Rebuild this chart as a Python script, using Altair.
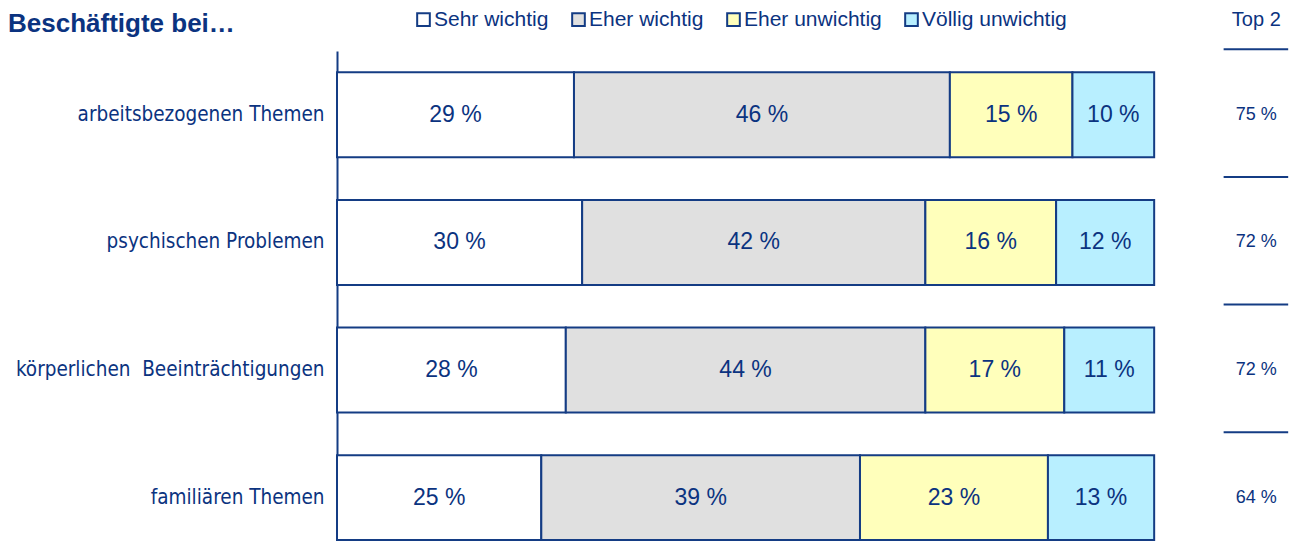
import altair as alt
import pandas as pd

# ---- data ----
categories = [
    "arbeitsbezogenen Themen",
    "psychischen Problemen",
    "körperlichen\u00a0 Beeinträchtigungen",
    "familiären Themen",
]
answers = ["Sehr wichtig", "Eher wichtig", "Eher unwichtig", "Völlig unwichtig"]
sehr_wichtig = [29, 30, 28, 25]
eher_wichtig = [46, 42, 44, 39]
eher_unwichtig = [15, 16, 17, 23]
voellig_unwichtig = [10, 12, 11, 13]
top2 = [75, 72, 72, 64]
title_text = "Beschäftigte bei…"
top2_header = "Top 2"

# ---- styles ----
TXT = "#0b3380"
STROKE = "#143c84"
FILLS = ["#ffffff", "#e0e0e0", "#ffffbb", "#b8efff"]
ARIAL = "Liberation Sans, Arial, sans-serif"

series = [sehr_wichtig, eher_wichtig, eher_unwichtig, voellig_unwichtig]
rows = []
for k, (ans, vals) in enumerate(zip(answers, series)):
    for c, v in zip(categories, vals):
        rows.append({"cat": c, "answer": ans, "ord": k, "value": v, "label": f"{v} %"})
df = pd.DataFrame(rows)
df_top = pd.DataFrame({"cat": categories, "t2": [f"{v} %" for v in top2]})
df_head = pd.DataFrame({"t": [top2_header]})
df_title = pd.DataFrame({"t": [title_text]})

xscale = alt.Scale(domain=[0, 116.5], nice=False, zero=True)
yscale = alt.Scale(paddingInner=0.334, paddingOuter=0.087, align=0.96)

y_enc = alt.Y(
    "cat:N",
    sort=categories,
    scale=yscale,
    axis=alt.Axis(
        title=None,
        ticks=False,
        grid=False,
        labelFont="DejaVu Sans Condensed, DejaVu Sans",
        labelFontSize=20.5,
        labelColor=TXT,
        labelPadding=13,
        labelLimit=0,
        domainColor=STROKE,
        domainWidth=2,
    ),
)

base = alt.Chart(df).transform_stack(
    stack="value", groupby=["cat"], as_=["x0", "x1"], sort=[alt.SortField("ord", "ascending")]
).transform_calculate(mid="(datum.x0 + datum.x1) / 2")

bars = base.mark_bar(stroke=STROKE, strokeWidth=2).encode(
    y=y_enc,
    x=alt.X("x0:Q", scale=xscale, axis=None),
    x2="x1:Q",
    fill=alt.Fill(
        "answer:N",
        scale=alt.Scale(domain=answers, range=FILLS),
        legend=alt.Legend(
            title=None,
            orient="none",
            legendX=76,
            legendY=-42,
            direction="horizontal",
            columns=4,
            columnPadding=19,
            symbolType="square",
            symbolSize=160,
            symbolStrokeColor=STROKE,
            symbolStrokeWidth=2,
            labelFont=ARIAL,
            labelFontSize=21,
            labelColor=TXT,
            labelOffset=0,
            labelLimit=0,
        ),
    ),
    order=alt.Order("ord:Q"),
)

bar_text = base.mark_text(font=ARIAL, fontSize=23, color=TXT, baseline="middle").encode(
    y=alt.Y("cat:N", sort=categories),
    x=alt.X("mid:Q"),
    text="label:N",
)

top_text = alt.Chart(df_top).mark_text(font=ARIAL, fontSize=18, color=TXT, baseline="middle").encode(
    y=alt.Y("cat:N", sort=categories),
    x=alt.datum(112.5),
    text="t2:N",
)

seps = alt.Chart(df_top).mark_rule(color=STROKE, strokeWidth=2, yOffset=-23).encode(
    y=alt.Y("cat:N", sort=categories, bandPosition=0),
    x=alt.datum(108.5),
    x2=alt.datum(116.4),
)

head = alt.Chart(df_head).mark_text(font=ARIAL, fontSize=20, color=TXT, baseline="middle").encode(
    x=alt.datum(112.5),
    y=alt.value(-31),
    text="t:N",
)

title = alt.Chart(df_title).mark_text(
    font=ARIAL, fontSize=26, fontWeight="bold", color=TXT, align="left", baseline="alphabetic"
).encode(
    x=alt.value(-329),
    y=alt.value(-18.7),
    text="t:N",
)

chart = alt.layer(bars, bar_text, top_text, seps, head, title).properties(
    width=952,
    height=490,
    autosize="none",
    padding={"left": 329, "top": 43, "right": 0, "bottom": 0},
).configure_view(stroke=None)

chart.save("out.html", embed_options={"renderer": "svg", "actions": False})
